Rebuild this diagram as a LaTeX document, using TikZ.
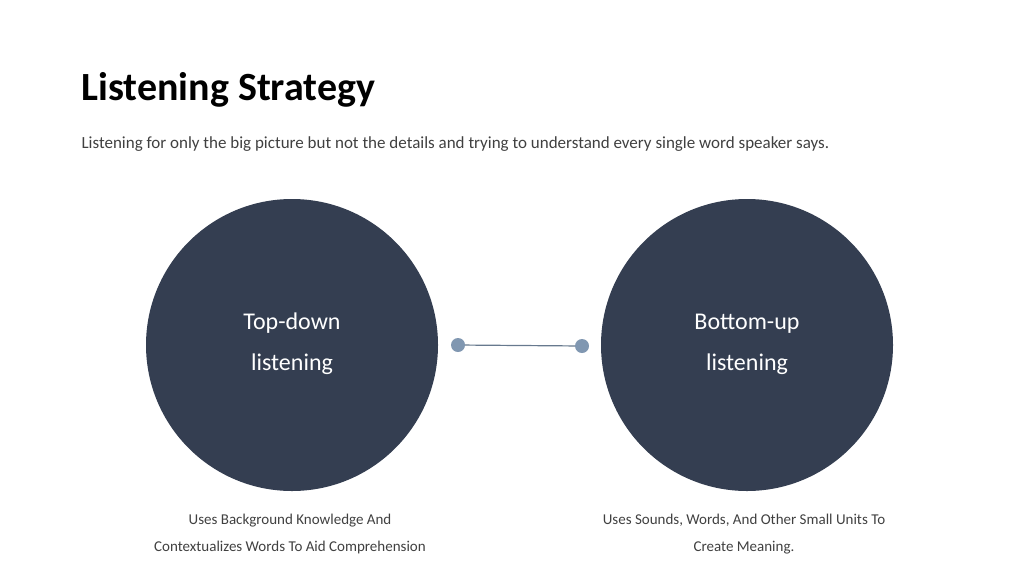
\documentclass[tikz,border=0pt]{standalone}
\usepackage{fontspec}
\setmainfont{Carlito}
\definecolor{circ}{HTML}{343E51}
\definecolor{dotc}{HTML}{8097B1}
\definecolor{txt}{HTML}{404040}
\begin{document}
\begin{tikzpicture}[x=1pt,y=-1pt,
  bigc/.style={circle,fill=circ,minimum size=292pt,inner sep=0pt},
  dot/.style={circle,fill=dotc,minimum size=14pt,inner sep=0pt},
  ctext/.style={text=white,font=\fontsize{24}{29}\selectfont,align=center},
  btext/.style={text=txt,font=\fontsize{15}{27}\selectfont,align=center}]
\useasboundingbox (0,0) rectangle (1024,576);
\node[anchor=base west,font=\bfseries\fontsize{40}{48}\selectfont,text=black] (title) at (78,100) {Listening Strategy};
\node[anchor=base west,text=txt,font=\fontsize{17}{20}\selectfont] (sub) at (78,148) {Listening for only the big picture but not the details and trying to understand every single word speaker says.};
\node[bigc] (L) at (292,345) {};
\node[bigc] (R) at (747,345) {};
\node[ctext] (lt) at (292,344) {Top-down\\[12pt]listening};
\node[ctext] (rt) at (747,344) {Bottom-up\\[12pt]listening};
\node[dot] (d1) at (458,345) {};
\node[dot] (d2) at (582,346) {};
\draw[dotc!80!black,line width=1.2pt] (d1) -- (d2);
\node[btext] (lb) at (290,534) {Uses Background Knowledge And\\Contextualizes Words To Aid Comprehension};
\node[btext] (rb) at (744,534) {Uses Sounds, Words, And Other Small Units To\\Create Meaning.};
\end{tikzpicture}
\end{document}
